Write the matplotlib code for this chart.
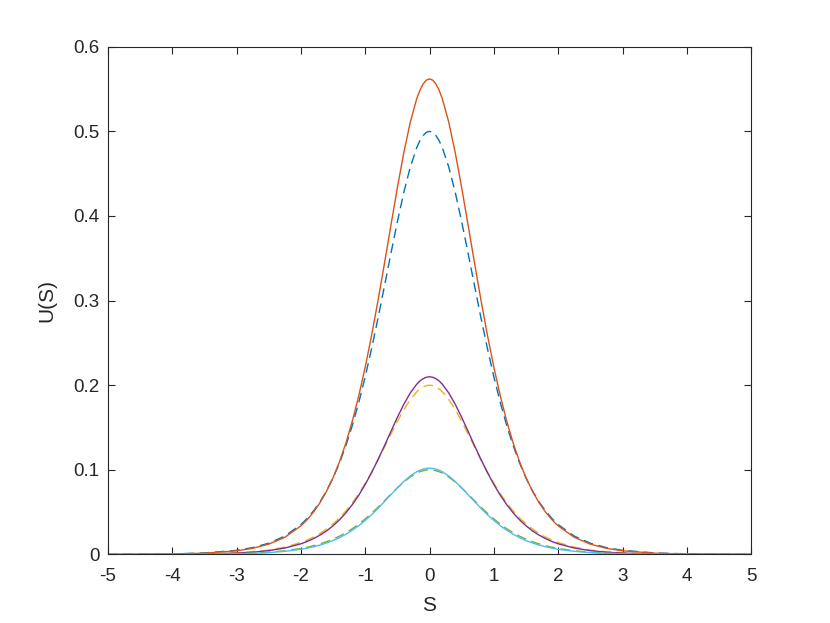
import numpy as np
import matplotlib.pyplot as plt

# S grid (finer near the peak)
s = [-5, -4.5, -4, -3.5, -3, -2.75, -2.5, -2.25, -2.0, -1.9, -1.8, -1.7, -1.6, -1.5, -1.4,
     -1.3, -1.2, -1.1, -1.0, -0.9, -0.8, -0.7, -0.6, -0.5, -0.4, -0.3, -0.2, -0.15, -0.1, -0.05,
     0.0,
     0.05, 0.1, 0.15, 0.2, 0.3, 0.4, 0.5, 0.6, 0.7, 0.8, 0.9, 1.0, 1.1, 1.2, 1.3,
     1.4, 1.5, 1.6, 1.7, 1.8, 1.9, 2.0, 2.25, 2.5, 2.75, 3, 3.5, 4, 4.5, 5]

# dashed blue, peak 0.5
u1_ref = [0.0001, 0.0002, 0.0007, 0.0018, 0.0049, 0.0081, 0.0133, 0.0217, 0.0353, 0.0428, 0.0518, 0.0625, 0.0753, 0.0904, 0.1081,
          0.1287, 0.1525, 0.1796, 0.2100, 0.2435, 0.2795, 0.3174, 0.3558, 0.3932, 0.4278, 0.4576, 0.4805, 0.4889, 0.4950, 0.4988,
          0.5000,
          0.4988, 0.4950, 0.4889, 0.4805, 0.4576, 0.4278, 0.3932, 0.3558, 0.3174, 0.2795, 0.2435, 0.2100, 0.1796, 0.1525, 0.1287,
          0.1081, 0.0904, 0.0753, 0.0625, 0.0518, 0.0428, 0.0353, 0.0217, 0.0133, 0.0081, 0.0049, 0.0018, 0.0007, 0.0002, 0.0001]
# solid orange, peak 0.562
u1 = [0.0001, 0.0002, 0.0005, 0.0015, 0.0043, 0.0073, 0.0122, 0.0203, 0.0338, 0.0413, 0.0505, 0.0615, 0.0748, 0.0906, 0.1095,
      0.1317, 0.1576, 0.1875, 0.2213, 0.2592, 0.3004, 0.3442, 0.3891, 0.4334, 0.4747, 0.5105, 0.5383, 0.5485, 0.5559, 0.5605,
      0.5620,
      0.5605, 0.5559, 0.5485, 0.5383, 0.5105, 0.4747, 0.4334, 0.3891, 0.3442, 0.3004, 0.2592, 0.2213, 0.1875, 0.1576, 0.1317,
      0.1095, 0.0906, 0.0748, 0.0615, 0.0505, 0.0413, 0.0338, 0.0203, 0.0122, 0.0073, 0.0043, 0.0015, 0.0005, 0.0002, 0.0001]
# dashed yellow, peak 0.2
u2_ref = [0.0000, 0.0001, 0.0003, 0.0007, 0.0020, 0.0032, 0.0053, 0.0087, 0.0141, 0.0171, 0.0207, 0.0250, 0.0301, 0.0361, 0.0432,
          0.0515, 0.0610, 0.0718, 0.0840, 0.0974, 0.1118, 0.1269, 0.1423, 0.1573, 0.1711, 0.1830, 0.1922, 0.1956, 0.1980, 0.1995,
          0.2000,
          0.1995, 0.1980, 0.1956, 0.1922, 0.1830, 0.1711, 0.1573, 0.1423, 0.1269, 0.1118, 0.0974, 0.0840, 0.0718, 0.0610, 0.0515,
          0.0432, 0.0361, 0.0301, 0.0250, 0.0207, 0.0171, 0.0141, 0.0087, 0.0053, 0.0032, 0.0020, 0.0007, 0.0003, 0.0001, 0.0000]
# solid purple, peak 0.21
u2 = [0.0000, 0.0001, 0.0002, 0.0006, 0.0016, 0.0027, 0.0045, 0.0076, 0.0126, 0.0154, 0.0189, 0.0230, 0.0279, 0.0339, 0.0409,
      0.0492, 0.0589, 0.0700, 0.0827, 0.0968, 0.1123, 0.1286, 0.1454, 0.1620, 0.1774, 0.1908, 0.2011, 0.2050, 0.2077, 0.2094,
      0.2100,
      0.2094, 0.2077, 0.2050, 0.2011, 0.1908, 0.1774, 0.1620, 0.1454, 0.1286, 0.1123, 0.0968, 0.0827, 0.0700, 0.0589, 0.0492,
      0.0409, 0.0339, 0.0279, 0.0230, 0.0189, 0.0154, 0.0126, 0.0076, 0.0045, 0.0027, 0.0016, 0.0006, 0.0002, 0.0001, 0.0000]
# dashed green, peak 0.1
u3_ref = [0.0000, 0.0000, 0.0001, 0.0004, 0.0010, 0.0016, 0.0027, 0.0043, 0.0071, 0.0086, 0.0104, 0.0125, 0.0151, 0.0181, 0.0216,
          0.0257, 0.0305, 0.0359, 0.0420, 0.0487, 0.0559, 0.0635, 0.0712, 0.0786, 0.0856, 0.0915, 0.0961, 0.0978, 0.0990, 0.0998,
          0.1000,
          0.0998, 0.0990, 0.0978, 0.0961, 0.0915, 0.0856, 0.0786, 0.0712, 0.0635, 0.0559, 0.0487, 0.0420, 0.0359, 0.0305, 0.0257,
          0.0216, 0.0181, 0.0151, 0.0125, 0.0104, 0.0086, 0.0071, 0.0043, 0.0027, 0.0016, 0.0010, 0.0004, 0.0001, 0.0000, 0.0000]
# solid cyan, peak 0.102
u3 = [0.0000, 0.0000, 0.0001, 0.0003, 0.0008, 0.0013, 0.0022, 0.0037, 0.0061, 0.0075, 0.0092, 0.0112, 0.0136, 0.0164, 0.0199,
      0.0239, 0.0286, 0.0340, 0.0402, 0.0470, 0.0545, 0.0625, 0.0706, 0.0787, 0.0862, 0.0927, 0.0977, 0.0996, 0.1009, 0.1017,
      0.1020,
      0.1017, 0.1009, 0.0996, 0.0977, 0.0927, 0.0862, 0.0787, 0.0706, 0.0625, 0.0545, 0.0470, 0.0402, 0.0340, 0.0286, 0.0239,
      0.0199, 0.0164, 0.0136, 0.0112, 0.0092, 0.0075, 0.0061, 0.0037, 0.0022, 0.0013, 0.0008, 0.0003, 0.0001, 0.0000, 0.0000]

plt.rcParams['font.family'] = ['Liberation Sans', 'DejaVu Sans']

fig = plt.figure(figsize=(8.3, 6.23), dpi=100)
ax = fig.add_axes([0.13, 0.11, 0.775, 0.815])

lw = 1.0
dash = (7, 4)
ax.plot(s, u1_ref, '--', color='#0072BD', lw=lw, dashes=dash)
ax.plot(s, u1, '-', color='#D95319', lw=lw)
ax.plot(s, u2_ref, '--', color='#EDB120', lw=lw, dashes=dash)
ax.plot(s, u2, '-', color='#7E2F8E', lw=lw)
ax.plot(s, u3_ref, '--', color='#77AC30', lw=lw, dashes=dash)
ax.plot(s, u3, '-', color='#4DBEEE', lw=lw)

ax.set_xlim(-5, 5)
ax.set_ylim(0, 0.6)
ax.set_xticks(np.arange(-5, 6, 1))
ax.set_yticks(np.arange(0, 0.61, 0.1))
ax.set_xticklabels([str(v) for v in range(-5, 6)])
ax.set_yticklabels(['0', '0.1', '0.2', '0.3', '0.4', '0.5', '0.6'])

axc = '#262626'
for sp in ax.spines.values():
    sp.set_color(axc)
    sp.set_linewidth(0.8)
ax.tick_params(direction='in', top=True, right=True, length=5, width=0.8,
               colors=axc, labelsize=13.5)
ax.tick_params(axis='x', pad=10)
ax.tick_params(axis='y', pad=6)
ax.set_xlabel('S', fontsize=15, color=axc, labelpad=8)
ax.set_ylabel('U(S)', fontsize=15, color=axc, labelpad=12)

fig.savefig('out.png', dpi=100)
